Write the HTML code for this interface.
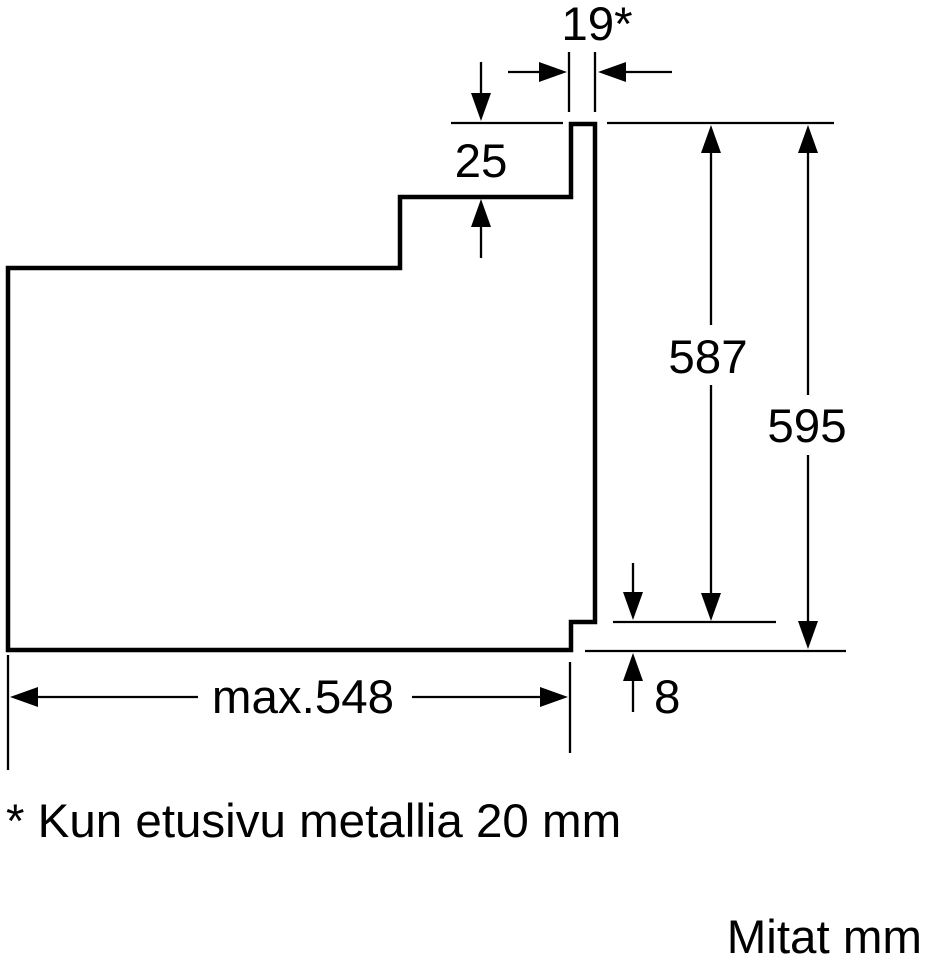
<!DOCTYPE html>
<html><head><meta charset="utf-8"><style>
html,body{margin:0;padding:0;background:#fff;}
svg{display:block;}
text{font-family:"Liberation Sans",Arial,sans-serif;font-size:47.5px;fill:#000;}
</style></head><body>
<svg width="926" height="960" viewBox="0 0 926 960" xmlns="http://www.w3.org/2000/svg">
<g fill="none" stroke="#000">
<path d="M8 650 V268 H400 V197 H571 V124 H595 V622 H571 V650 Z" stroke-width="4.5" stroke-linejoin="miter"/>
<g stroke-width="2.3">
<line x1="451" y1="123" x2="563" y2="123"/>
<line x1="607" y1="123" x2="834" y2="123"/>
<line x1="569" y1="52" x2="569" y2="112"/>
<line x1="595" y1="52" x2="595" y2="112"/>
<line x1="508" y1="72" x2="545" y2="72"/>
<line x1="620" y1="72" x2="672" y2="72"/>
<line x1="481" y1="62" x2="481" y2="100"/>
<line x1="481" y1="220" x2="481" y2="258"/>
<line x1="613" y1="622" x2="776" y2="622"/>
<line x1="585" y1="651" x2="846" y2="651"/>
<line x1="711" y1="145" x2="711" y2="325"/>
<line x1="711" y1="385" x2="711" y2="600"/>
<line x1="808" y1="145" x2="808" y2="395"/>
<line x1="808" y1="455" x2="808" y2="628"/>
<line x1="633" y1="563" x2="633" y2="600"/>
<line x1="633" y1="675" x2="633" y2="712"/>
<line x1="8" y1="655" x2="8" y2="770"/>
<line x1="570" y1="662" x2="570" y2="753"/>
<line x1="30" y1="697" x2="198" y2="697"/>
<line x1="412" y1="697" x2="548" y2="697"/>
</g>
</g>
<g fill="#000">
<polygon points="567,72 539,62 539,82"/>
<polygon points="598,72 626,62 626,82"/>
<polygon points="481,121 471,93 491,93"/>
<polygon points="481,199 471,227 491,227"/>
<polygon points="711,125 701,153 721,153"/>
<polygon points="711,621 701,593 721,593"/>
<polygon points="808,125 798,153 818,153"/>
<polygon points="808,649 798,621 818,621"/>
<polygon points="633,620 623,592 643,592"/>
<polygon points="633,653 623,681 643,681"/>
<polygon points="10,697 38,687 38,707"/>
<polygon points="568,697 540,687 540,707"/>
</g>
<text x="597" y="40" text-anchor="middle">19*</text>
<text x="481" y="177" text-anchor="middle">25</text>
<text x="708" y="373" text-anchor="middle">587</text>
<text x="807" y="442" text-anchor="middle">595</text>
<text x="303" y="713" text-anchor="middle">max.548</text>
<text x="654" y="713">8</text>
<text x="6" y="837">* Kun etusivu metallia 20 mm</text>
<text x="922" y="953" text-anchor="end">Mitat mm</text>
</svg>
</body></html>
